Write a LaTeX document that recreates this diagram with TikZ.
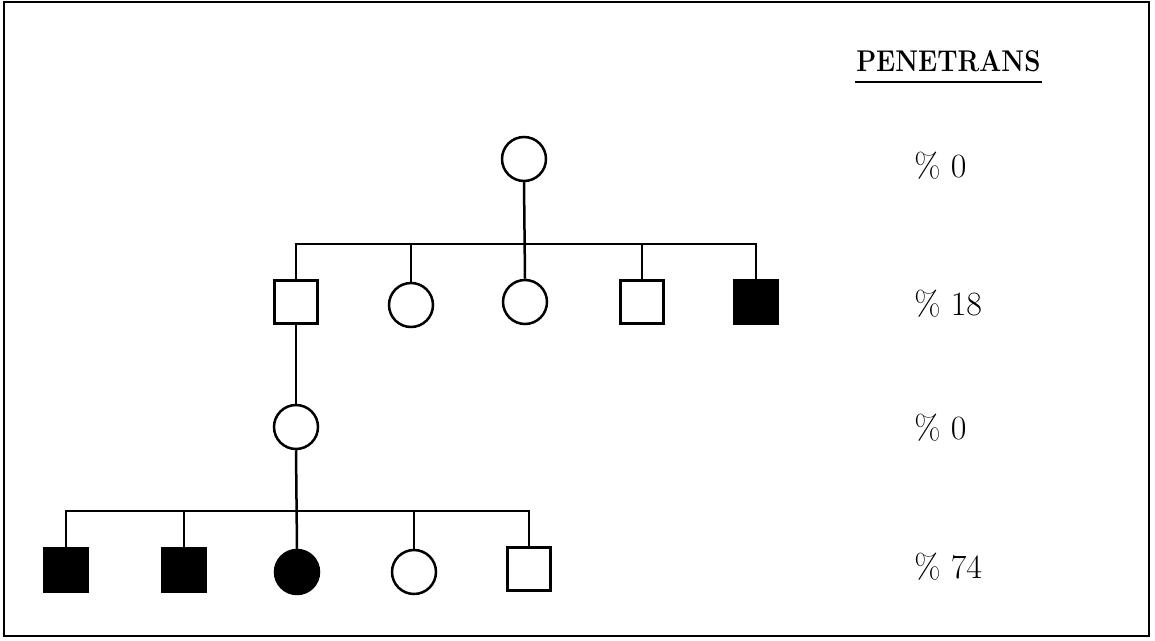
\documentclass[tikz,border=0pt]{standalone}
\usepackage{fontspec}
\usepackage{graphicx}
\begin{document}
\begin{tikzpicture}[x=0.5pt,y=-0.5pt,
  line width=1.25pt,
  sq/.style={draw,rectangle,minimum size=21.5pt,inner sep=0pt},
  ci/.style={draw,circle,minimum size=22pt,inner sep=0pt},
  aff/.style={fill=black},
  pct/.style={anchor=west,inner sep=0pt,font=\fontsize{17}{20}\selectfont},
  ]
\useasboundingbox (0,0) rectangle (1155,641);
\node[draw,line width=0.8pt,minimum width=572.5pt,minimum height=317pt,inner sep=0pt] (frame) at (576.5,319) {};

% title
\node[anchor=base west,inner sep=0pt,font=\fontsize{15}{18}\selectfont\bfseries] (pen) at (855,72) {\scalebox{0.865}[1]{PENETRANS}};
\draw[line width=0.9pt] ([yshift=-5pt]pen.base west) -- ([yshift=-5pt]pen.base east);

% generation I
\node[ci] (c0) at (524,159) {};
% generation II
\node[sq] (s1) at (296,302) {};
\node[ci] (c1) at (411,305) {};
\node[ci] (c2) at (525,302) {};
\node[sq] (s2) at (642,302) {};
\node[sq,aff] (s3) at (756,302) {};
\coordinate (bar1) at (0,244);
\draw (c0.south) -- (c2.north);
\draw (s1.north) -- (s1.north |- bar1) -- (s3.north |- bar1) -- (s3.north);
\draw (c1.north) -- (c1.north |- bar1);
\draw (s2.north) -- (s2.north |- bar1);
% generation III
\node[ci] (c3) at (296,427) {};
\draw (s1.south) -- (c3.north);
% generation IV
\node[sq,aff] (s4) at (66,570) {};
\node[sq,aff] (s5) at (184,570) {};
\node[ci,aff] (c4) at (297,572) {};
\node[ci] (c5) at (414,572) {};
\node[sq] (s6) at (529,569) {};
\coordinate (bar2) at (0,511);
\draw (c3.south) -- (c4.north);
\draw (s4.north) -- (s4.north |- bar2) -- (s6.north |- bar2) -- (s6.north);
\draw (s5.north) -- (s5.north |- bar2);
\draw (c5.north) -- (c5.north |- bar2);

% penetrance labels
\node[pct] (p1) at (913,166) {\% 0};
\node[pct] (p2) at (913,304) {\% 18};
\node[pct] (p3) at (913,428) {\% 0};
\node[pct] (p4) at (913,567) {\% 74};
\end{tikzpicture}
\end{document}
